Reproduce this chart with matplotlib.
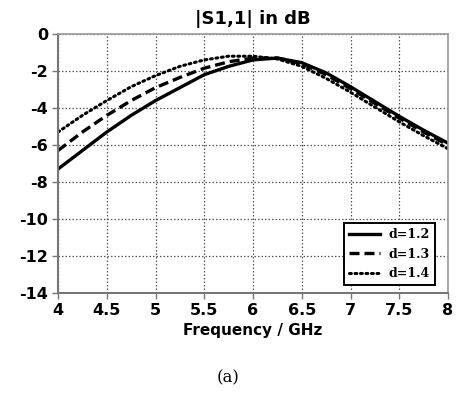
import matplotlib
matplotlib.use("Agg")
import matplotlib.pyplot as plt

plt.rcParams["axes.unicode_minus"] = False

freq = [4.0, 4.25, 4.5, 4.75, 5.0, 5.25, 5.5, 5.75, 6.0, 6.25, 6.5, 6.75, 7.0, 7.25, 7.5, 7.75, 8.0]
s11_d12 = [-7.3, -6.3, -5.3, -4.4, -3.6, -2.9, -2.2, -1.75, -1.4, -1.3, -1.55, -2.1, -2.85, -3.65, -4.45, -5.2, -5.9]
s11_d13 = [-6.3, -5.3, -4.4, -3.6, -2.9, -2.35, -1.85, -1.5, -1.3, -1.3, -1.6, -2.2, -2.95, -3.75, -4.55, -5.3, -6.0]
s11_d14 = [-5.3, -4.4, -3.6, -2.85, -2.25, -1.75, -1.4, -1.2, -1.2, -1.35, -1.75, -2.4, -3.15, -3.95, -4.75, -5.5, -6.2]
labels = ["d=1.2", "d=1.3", "d=1.4"]
xticks = [4, 4.5, 5, 5.5, 6, 6.5, 7, 7.5, 8]
xtick_labels = ["4", "4.5", "5", "5.5", "6", "6.5", "7", "7.5", "8"]
yticks = [0, -2, -4, -6, -8, -10, -12, -14]

fig = plt.figure(figsize=(4.59, 4.03), dpi=100)
ax = fig.add_axes([58/459, 1 - 293/403, 390/459, 259/403])

ax.plot(freq, s11_d12, color="black", lw=2.4, ls="-", label=labels[0])
ax.plot(freq, s11_d13, color="black", lw=2.4, ls=(0, (3, 1.5)), label=labels[1])
ax.plot(freq, s11_d14, color="black", lw=2.2, ls=(0, (0.6, 1.2)), dash_capstyle="round", label=labels[2])

ax.set_xlim(4, 8)
ax.set_ylim(-14, 0)
ax.set_xticks(xticks)
ax.set_xticklabels(xtick_labels)
ax.set_yticks(yticks)
ax.grid(True, color="#555555", ls=(0, (1.2, 1.6)), lw=0.9)
for lab in ax.get_xticklabels() + ax.get_yticklabels():
    lab.set_fontweight("bold")
    lab.set_fontsize(11.5)
ax.tick_params(axis="both", length=4, width=1, color="#777777", pad=3)
for side in ["left", "bottom"]:
    ax.spines[side].set_color("#777777")
    ax.spines[side].set_linewidth(1.5)
for side in ["top", "right"]:
    ax.spines[side].set_color("#999999")
    ax.spines[side].set_linewidth(1.2)

ax.set_title("|S1,1| in dB", fontsize=13, fontweight="bold", pad=7)
ax.set_xlabel("Frequency / GHz", fontsize=11, fontweight="bold", labelpad=4)

leg = ax.legend(loc="lower right", bbox_to_anchor=(0.967, 0.031),
                prop={"family": "DejaVu Serif", "weight": "bold", "size": 9},
                frameon=True, fancybox=False, edgecolor="black", framealpha=1,
                handlelength=2.5, borderaxespad=0.0, labelspacing=0.5, handletextpad=0.7,
                borderpad=0.4)
leg.get_frame().set_linewidth(1.4)

fig.text(228/459, 1 - 378/403, "(a)", fontsize=12, family="DejaVu Serif", ha="center", va="center")

fig.savefig("out.png", dpi=100)
